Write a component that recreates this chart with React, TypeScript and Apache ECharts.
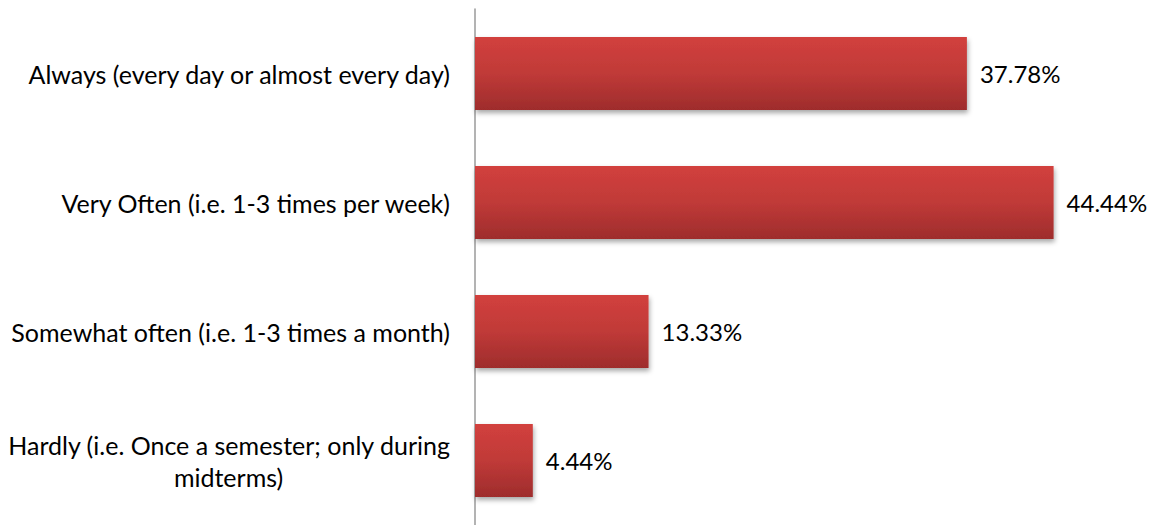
import React, { useEffect, useRef } from "react";
import * as echarts from "echarts";

const categories: string[] = [
  "Always (every day or almost every day)",
  "Very Often (i.e. 1-3 times per week)",
  "Somewhat often (i.e. 1-3 times a month)",
  "Hardly (i.e. Once a semester; only during\nmidterms)",
];
const values: number[] = [37.78, 44.44, 13.33, 4.44];

const FONT = "Lato";
const FS = 25;

export default function App() {
  const ref = useRef<HTMLDivElement>(null);
  useEffect(() => {
    if (!ref.current) return;
    const chart = echarts.init(ref.current, undefined, { renderer: "svg" });
    chart.setOption({
      animation: false,
      grid: { left: 475, top: 9, right: 30, bottom: -2, containLabel: false },
      xAxis: {
        type: "value",
        min: 0,
        max: 50,
        show: false,
      },
      yAxis: {
        type: "category",
        inverse: true,
        data: categories,
        axisLine: { show: true, lineStyle: { color: "#9a9a9a", width: 1.5 } },
        axisTick: { show: false },
        splitLine: { show: false },
        axisLabel: {
          margin: 25,
          formatter: (v: string) => {
            const parts = v.split("\n");
            if (parts.length === 1) return `{a|${v}}`;
            return `{a|${parts[0]}}\n{b|${parts[1]}}`;
          },
          rich: {
            a: { fontFamily: FONT, fontSize: FS, color: "#000", lineHeight: 32, align: "right" },
            b: { fontFamily: FONT, fontSize: FS, color: "#000", lineHeight: 32, align: "center" },
          },
        },
      },
      series: [
        {
          type: "bar",
          data: values,
          barWidth: 73,
          itemStyle: {
            color: new echarts.graphic.LinearGradient(0, 0, 0, 1, [
              { offset: 0, color: "#d2403d" },
              { offset: 0.5, color: "#c03a38" },
              { offset: 1, color: "#9e2c2c" },
            ]),
            shadowColor: "rgba(0,0,0,0.35)",
            shadowBlur: 5,
            shadowOffsetX: 1,
            shadowOffsetY: 3,
          },
          label: {
            show: true,
            position: "right",
            distance: 13,
            formatter: (p: any) => p.value.toFixed(2) + "%",
            fontFamily: FONT,
            fontSize: 24,
            color: "#000",
          },
        },
      ],
    });
    return () => chart.dispose();
  }, []);
  return (
    <div
      ref={ref}
      style={{ position: "fixed", left: 0, top: 0, width: 1156, height: 525, background: "#fff" }}
    />
  );
}
